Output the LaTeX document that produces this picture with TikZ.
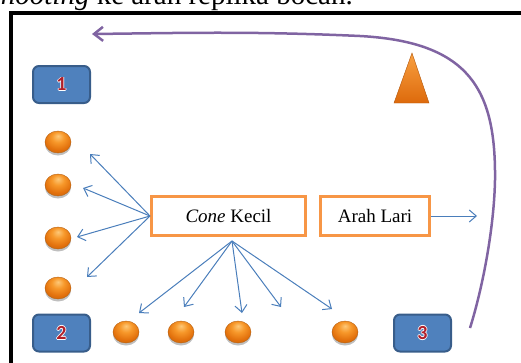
\documentclass[tikz,border=0pt]{standalone}
\usepackage{fontspec}
\setmainfont{Liberation Serif}
\newfontfamily\numfont{Carlito}
\usetikzlibrary{arrows.meta,shadows,calc,shapes.geometric}
\definecolor{bluebox}{HTML}{4F81BD}
\definecolor{blueedge}{HTML}{385D8A}
\definecolor{orgedge}{HTML}{F79646}
\definecolor{arrowblue}{HTML}{4A7EBB}
\definecolor{purp}{HTML}{8064A2}
\definecolor{numred}{HTML}{B0202A}
\definecolor{ballhi}{HTML}{FDC878}
\definecolor{ballmid}{HTML}{F7982A}
\definecolor{balledge}{HTML}{E2700C}
\definecolor{ballrim}{HTML}{B8600E}
\definecolor{conelt}{HTML}{F9A040}
\definecolor{conedk}{HTML}{DD6A0C}
\pgfdeclareradialshading{ballorange}{\pgfpoint{0bp}{14bp}}{color(0bp)=(ballhi); color(12bp)=(ballmid); color(26bp)=(balledge); color(40bp)=(ballrim); color(60bp)=(ballrim)}
\newcommand\outlnum[1]{{\numfont\bfseries
  \rlap{\color{white}\kern-0.8pt#1}\rlap{\color{white}\kern0.8pt#1}%
  \rlap{\color{white}\raisebox{0.8pt}{#1}}\rlap{\color{white}\raisebox{-0.8pt}{#1}}%
  {\color{numred}#1}}}
\tikzset{
  numbox/.style={draw=blueedge, line width=2pt, fill=bluebox, rounded corners=6pt,
    minimum width=57pt, minimum height=37pt, inner sep=0pt,
    font=\fontsize{20}{22}\selectfont},
  ball/.style={ellipse, minimum width=26pt, minimum height=22pt, inner sep=0pt,
    draw=ballrim, line width=0.4pt, shading=ballorange,
    drop shadow={shadow xshift=0pt, shadow yshift=-2.5pt, opacity=0.25, fill=black}},
  labbox/.style={draw=orgedge, line width=3pt, fill=white, inner sep=0pt,
    minimum height=39pt, font=\fontsize{19}{22}\selectfont},
  barrow/.style={draw=arrowblue, line width=1pt, -{Straight Barb[length=7pt,width=12pt,line width=1pt]}},
  parrow/.style={draw=purp, line width=2.5pt, -{Straight Barb[length=9pt,width=14pt,line width=2.5pt]}}
}
\begin{document}
\begin{tikzpicture}[x=1pt,y=-1pt]
\useasboundingbox (0,0) rectangle (521,362);
\clip (0,0) rectangle (521,362);
% caption fragment
\node[anchor=base east, inner sep=0pt, font=\fontsize{29}{34}\selectfont] (cap) at (353,4) {\textit{shooting} ke arah replika bocah.};
% frame
\draw[line width=4pt] (11,380) -- (11,13) -- (540,13);
% number boxes
\node[numbox] (b1) at (61.5,84.5) {\raisebox{-4pt}{\outlnum{1}}};
\node[numbox] (b2) at (61.5,333) {\raisebox{-4pt}{\outlnum{2}}};
\node[numbox] (b3) at (422.5,333) {\raisebox{-4pt}{\outlnum{3}}};
% cone
\shade[top color=conelt, bottom color=conedk, draw=conedk!80!black, line width=0.4pt]
  (412,53) -- (429,103) -- (394,103) -- cycle;
% balls
\node[ball] (l1) at (58,142) {};
\node[ball] (l2) at (58,185) {};
\node[ball] (l3) at (58,238) {};
\node[ball] (l4) at (58,288) {};
\node[ball] (d1) at (126,332) {};
\node[ball] (d2) at (181,332) {};
\node[ball] (d3) at (238,332) {};
\node[ball] (d4) at (345,332) {};
% labelled boxes
\node[labbox, minimum width=154pt] (ck) at (228.5,216) {\textit{Cone} Kecil};
\node[labbox, minimum width=109pt] (al) at (375,216) {Arah Lari};
% arrow ends
\coordinate (ckb) at ($(ck.south)+(3.5,4)$);
\coordinate (t1) at (90,154);
\coordinate (t2) at (83,188);
\coordinate (t3) at (77,237);
\coordinate (t4) at (87,277);
\coordinate (u1) at (139,313);
\coordinate (u2) at (184,307);
\coordinate (u3) at (242,313);
\coordinate (u4) at (281,307);
\coordinate (u5) at (332,309);
\coordinate (ar) at (477,216);
\foreach \t in {t1,t2,t3,t4} \draw[barrow] (ck.west) -- (\t);
\foreach \u in {u1,u2,u3,u4,u5} \draw[barrow] (ckb) -- (\u);
\draw[barrow] (al.east) -- (ar);
% purple running path
\coordinate (ps) at (470,328);
\coordinate (pe) at (92,34);
\draw[parrow] (ps) .. controls (482,290) and (494,230) .. (495,180)
  .. controls (496,90) and (470,42) .. (360,36)
  .. controls (250,31) and (180,33) .. (pe);
\end{tikzpicture}
\end{document}
